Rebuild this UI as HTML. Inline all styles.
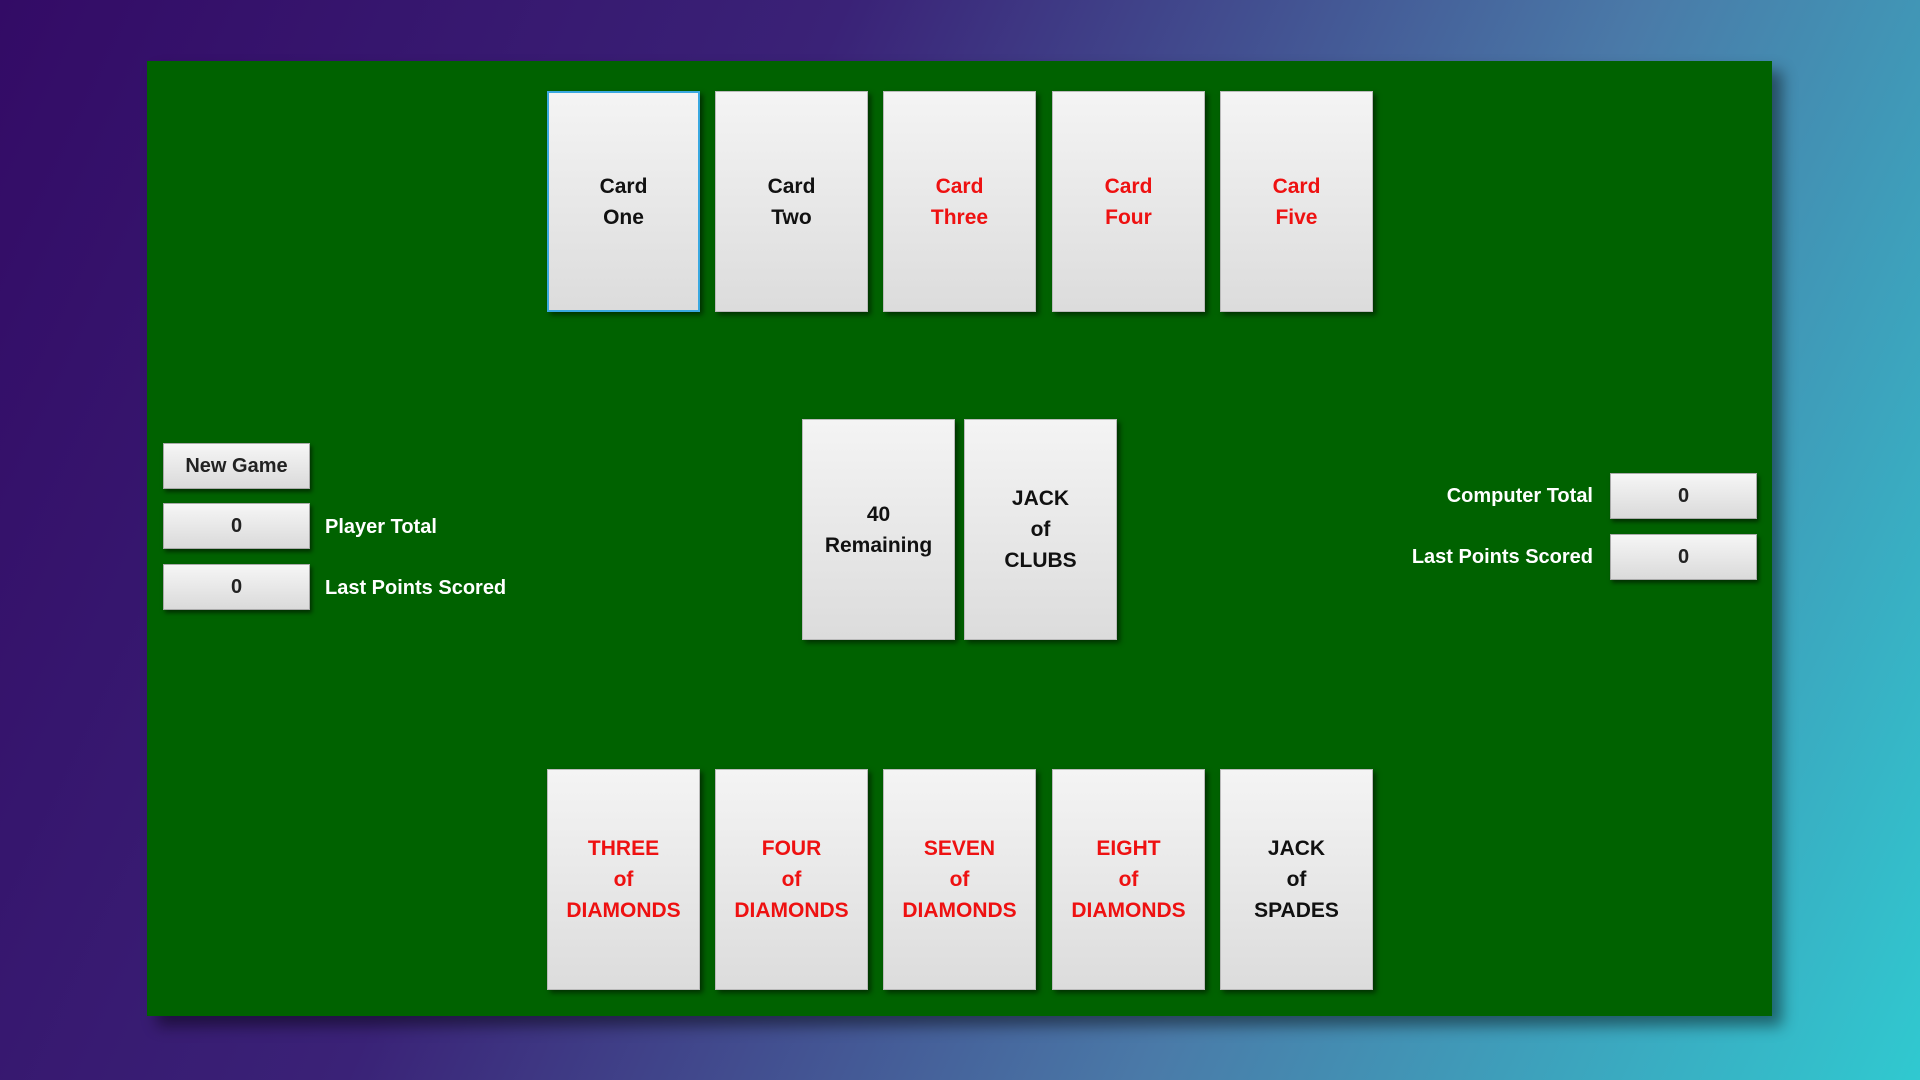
<!DOCTYPE html>
<html><head><style>
html,body{margin:0;padding:0}
body{width:1920px;height:1080px;position:relative;overflow:hidden;background:linear-gradient(115deg,#330b66 0%,#3a2277 35%,#4a7aa8 68%,#30c9d0 100%);font-family:"Liberation Sans",sans-serif;font-weight:bold}
#g{position:absolute;left:147px;top:61px;width:1625px;height:955px;background:#006200;box-shadow:10px 10px 14px rgba(0,0,0,0.45)}
.c{position:absolute;width:153px;height:221px;background:linear-gradient(#f4f4f4,#dcdcdc);border:1px solid #bbb;box-sizing:border-box;box-shadow:3px 3px 5px rgba(0,0,0,0.5);display:flex;align-items:center;justify-content:center;text-align:center;font-size:21px;line-height:31px;color:#111}
.r{color:#ee1111}
.b{position:absolute;width:147px;height:46px;background:linear-gradient(#f6f6f6,#dadada);border:1px solid #aaa;box-sizing:border-box;box-shadow:2px 3px 4px rgba(0,0,0,0.5);display:flex;align-items:center;justify-content:center;font-size:20px;color:#222}
.l{position:absolute;color:#fff;font-size:20px;line-height:46px}
</style></head><body>
<div id="g"></div>
<div class="c" style="left:547px;top:91px;border:2px solid #3aa8e0">Card<br>One</div>
<div class="c" style="left:715px;top:91px">Card<br>Two</div>
<div class="c r" style="left:883px;top:91px">Card<br>Three</div>
<div class="c r" style="left:1052px;top:91px">Card<br>Four</div>
<div class="c r" style="left:1220px;top:91px">Card<br>Five</div>
<div class="c" style="left:802px;top:419px">40<br>Remaining</div>
<div class="c" style="left:964px;top:419px">JACK<br>of<br>CLUBS</div>
<div class="c r" style="left:547px;top:769px">THREE<br>of<br>DIAMONDS</div>
<div class="c r" style="left:715px;top:769px">FOUR<br>of<br>DIAMONDS</div>
<div class="c r" style="left:883px;top:769px">SEVEN<br>of<br>DIAMONDS</div>
<div class="c r" style="left:1052px;top:769px">EIGHT<br>of<br>DIAMONDS</div>
<div class="c" style="left:1220px;top:769px">JACK<br>of<br>SPADES</div>
<div class="b" style="left:163px;top:443px">New Game</div>
<div class="b" style="left:163px;top:503px">0</div>
<div class="b" style="left:163px;top:564px">0</div>
<div class="l" style="left:325px;top:504px">Player Total</div>
<div class="l" style="left:325px;top:565px">Last Points Scored</div>
<div class="b" style="left:1610px;top:473px">0</div>
<div class="b" style="left:1610px;top:534px">0</div>
<div class="l" style="right:327px;top:473px">Computer Total</div>
<div class="l" style="right:327px;top:534px">Last Points Scored</div>
</body></html>
